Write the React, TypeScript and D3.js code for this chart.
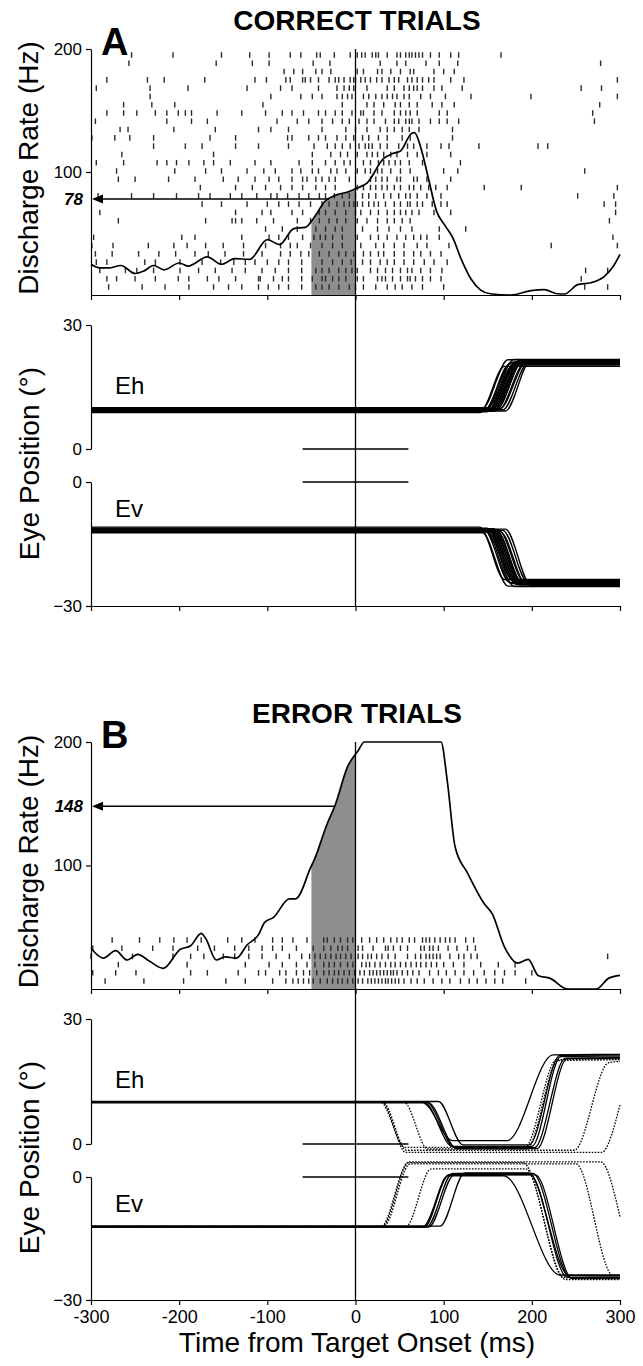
import * as React from 'react';
import * as d3 from 'd3';

const TIME_DOMAIN = [-300, 300];
const TIME_TICKS = [-300, -200, -100, 0, 100, 200, 300];
const RATE_TICKS = [200, 100];
const EH_TICKS = [30, 0];
const EV_TICKS = [0, -30];
const SHADE_WINDOW = [-50, 0];
const REF_LINE = [-60, 60];

// spike density functions (ms, Hz)
const rateTimesA = [-300, -290, -280, -266, -250, -240, -229, -217, -200, -190, -168, -152, -137, -120, -100, -86, -70, -57, -46, -35, -23, -8, 2, 13, 32, 42, 51, 63, 67, 74, 82, 92, 102, 110, 120, 131, 142, 153, 176, 199, 214, 229, 237, 252, 267, 282, 293, 300];
const rateValuesA = [25, 22, 22, 24, 17.5, 19.5, 24, 20.5, 26, 23.5, 31, 25, 29.5, 29, 45, 41, 54, 55, 64, 76, 81, 84, 87, 91, 111, 115, 117, 131, 132, 120, 97, 68, 56, 47, 29, 13, 4, 1, 0, 3.5, 4.3, 1, 0.8, 8.4, 10, 15, 24, 33];

const rateTimesB = [-300, -286, -272, -259, -247, -234, -218, -199, -187, -175, -170, -158, -148, -135, -123, -110, -103, -93, -75, -68, -51, -46, -32, -23, -9, 3, 10, 97, 104, 113, 127, 146, 155, 169, 184, 196, 207, 221, 240, 273, 287, 300];
const rateValuesB = [33, 25, 31, 23.5, 28, 22.7, 16.7, 32, 35, 45, 41, 23.5, 26, 25, 35.6, 44, 54, 58, 73, 73, 98, 106, 134, 149, 180, 193, 200, 200, 169, 115, 94, 69, 61, 34, 21, 24, 11, 8.6, 0, 0, 8.6, 11];

// rasters: spike times per trial (ms)
const rasterA: number[][] = [
  [-254, -207, -152, -120, -98, -74, -62, -44, -40, -24, -6, 2, 7, 11, 19, 23, 26, 36, 47, 51, 57, 61, 64, 68, 72, 76, 85, 95, 108, 117, 165],
  [-257, -158, -117, -98, -48, -29, 28, 47, 57, 80, 95, 116, 278],
  [-81, -70, -60, -45, -38, -28, 2, 9, 25, 30, 40, 51, 62, 66, 89, 100, 112],
  [-282, -236, -217, -171, -114, -101, -79, -74, -60, -57, -51, -42, -30, -23, -19, -13, -6, -2, 0, 6, 11, 17, 24, 30, 38, 44, 49, 59, 64, 70, 76, 83, 89, 108, 123, 297],
  [-294, -233, -190, -123, -85, -72, -42, -21, -13, -7, -2, 13, 36, 44, 55, 61, 66, 70, 76, 89, 98, 121, 256, 279],
  [-233, -96, -62, -49, -38, -21, -15, -9, -4, 9, 15, 23, 30, 36, 42, 47, 55, 61, 74, 85, 102, 131, 199, 297],
  [-263, -231, -205, -105, -15, 13, 21, 32, 45, 51, 61, 70, 87, 98, 112, 277],
  [-282, -263, -248, -227, -214, -201, -193, -186, -157, -129, -102, -83, -72, -59, -42, -34, -23, -15, -4, 6, 9, 21, 30, 44, 51, 57, 62, 70, 95, 104, 269],
  [-295, -214, -186, -168, -89, -66, -53, -38, -26, -15, -7, 4, 13, 21, 34, 44, 49, 57, 61, 64, 72, 85, 95, 104, 117, 271],
  [-267, -258, -206, -159, -110, -96, -76, -38, -11, 0, 13, 28, 36, 44, 53, 61, 72, 110],
  [-299, -273, -256, -229, -165, -136, -77, -72, -53, -42, -34, -21, -11, -2, 8, 15, 26, 36, 53, 62, 110],
  [-229, -193, -174, -136, -110, -76, -47, -32, -23, -15, -6, 4, 11, 15, 19, 28, 36, 49, 59, 66, 81, 97, 106, 140, 207, 218],
  [-265, -161, -49, -28, -17, -9, 2, 13, 19, 25, 32, 40, 47, 59, 70, 81, 108],
  [-294, -263, -225, -214, -203, -189, -172, -161, -142, -114, -96, -64, -49, -34, -23, -13, -6, 9, 17, 26, 32, 38, 45, 51, 61, 76, 119],
  [-271, -205, -170, -152, -123, -104, -91, -72, -62, -49, -42, -28, -21, -11, 2, 11, 17, 25, 30, 40, 51, 62, 100, 116, 260],
  [-269, -250, -212, -182, -150, -133, -114, -98, -87, -72, -60, -55, -45, -38, -30, -23, -7, 17, 23, 30, 36, 47, 51, 66, 70, 81, 108],
  [-176, -136, -117, -102, -85, -72, -60, -45, -34, -23, 2, 9, 17, 23, 30, 36, 44, 51, 61, 66, 74, 83, 91, 104, 146, 188, 297],
  [-292, -254, -229, -203, -178, -165, -142, -129, -112, -96, -89, -77, -64, -53, -41, -34, -24, -15, -7, 0, 8, 15, 23, 32, 40, 49, 57, 62, 70, 81, 97, 252, 293],
  [-174, -152, -123, -100, -87, -76, -64, -51, -38, -30, -21, -13, -7, -2, 2, 8, 15, 21, 26, 34, 44, 51, 59, 62, 70, 76, 87, 97, 104, 282, 295],
  [-290, -136, -106, -96, -72, -60, -41, -34, -23, -11, 0, 6, 17, 26, 36, 44, 51, 57, 64, 72, 89, 108, 295],
  [-269, -170, -140, -136, -129, -112, -93, -66, -51, -41, -30, -21, -11, 2, 13, 25, 36, 44, 53, 62, 288],
  [-102, -83, -66, -45, -34, -23, -15, 8, 25, 38, 51, 64, 95, 125],
  [-297, -197, -182, -129, -98, -87, -76, -60, -47, -40, -34, -26, -15, 2, 17, 26, 36, 47, 57, 66, 74, 81, 95, 292],
  [-299, -275, -235, -206, -191, -170, -150, -127, -102, -85, -74, -66, -51, -38, -26, -15, 6, 23, 32, 44, 55, 70, 81, 106, 222, 297],
  [-295, -276, -246, -223, -204, -182, -167, -148, -127, -106, -85, -74, -62, -53, -41, -30, -19, -11, -2, 9, 17, 26, 32, 44, 55, 66, 74, 85, 97],
  [-294, -282, -239, -227, -199, -174, -153, -138, -125, -114, -100, -87, -76, -61, -38, -26, -15, -5, 8, 17, 28, 36, 44, 55, 66, 78, 89, 104],
  [-290, -261, -248, -229, -199, -178, -159, -140, -125, -106, -91, -76, -61, -45, -38, -30, -19, -11, -4, 2, 17, 25, 34, 42, 51, 59, 64, 74, 85, 98, 261, 286],
  [-282, -271, -250, -227, -201, -189, -168, -155, -136, -110, -108, -93, -83, -76, -61, -49, -38, -34, -26, -19, -11, 2, 9, 25, 30, 34, 42, 51, 59, 62, 68, 76, 85, 97, 256],
  [-280, -242, -216, -189, -161, -144, -129, -110, -99, -87, -76, -61, -45, -38, -30, -19, -7, 0, 9, 23, 36, 45, 53, 64, 76, 100, 260, 286],
];

const rasterB: number[][] = [
  [-276, -245, -222, -206, -191, -175, -145, -129, -114, -94, -83, -71, -55, -36, -32, -24, -17, -9, -3, 7, 16, 24, 32, 40, 47, 53, 61, 67, 76, 80, 84, 90, 96, 102, 107, 113, 125, 134],
  [-298, -265, -230, -207, -179, -160, -137, -121, -106, -94, -83, -67, -48, -36, -28, -20, -15, -9, 3, 8, 20, 34, 37, 43, 51, 59, 74, 78, 84, 88, 94, 105, 115, 127, 136],
  [-300, -253, -207, -187, -172, -150, -137, -121, -106, -90, -75, -61, -52, -46, -40, -34, -28, -22, -17, -11, -5, 3, 8, 14, 18, 24, 30, 37, 45, 59, 68, 74, 80, 84, 88, 92, 96, 107, 117, 123, 131, 138, 286],
  [-269, -191, -125, -98, -83, -67, -55, -46, -36, -30, -24, -17, -9, -3, 7, 12, 16, 22, 28, 34, 40, 45, 51, 57, 63, 69, 74, 80, 86, 92, 100, 111, 123, 142, 162, 181],
  [-298, -272, -249, -187, -168, -133, -110, -102, -86, -79, -67, -59, -52, -44, -36, -30, -24, -19, -13, -7, -1, 5, 10, 16, 20, 24, 28, 32, 36, 40, 43, 47, 53, 59, 65, 72, 84, 94, 103, 113, 123, 134, 146, 158, 169, 181, 200],
  [-284, -240, -195, -147, -125, -94, -79, -71, -65, -59, -53, -48, -40, -32, -26, -20, -15, -9, -3, 3, 8, 14, 18, 22, 26, 30, 34, 37, 41, 45, 49, 55, 63, 70, 78, 88, 98, 107, 119, 129, 138, 148, 158, 167, 193],
];

// correct trials: saccade onset/offset (ms) and eye positions (deg)
const correctOnset = [141, 144, 146, 148, 149, 150, 151, 152, 153, 154, 155, 156, 157, 158, 159, 160, 162, 164, 167, 170];
const correctOffset = [169, 173, 175, 177, 179, 180, 181, 182, 183, 184, 185, 186, 187, 188, 189, 190, 192, 194, 196, 199];
const correctEhStart = [8.8, 9.9, 9.3, 9.6, 9.0, 10.0, 9.5, 9.2, 9.8, 9.4, 9.7, 9.1, 9.9, 9.5, 9.3, 9.6, 9.4, 9.8, 9.5, 9.2];
const correctEhEnd = [20.0, 21.6, 20.6, 21.0, 20.3, 21.7, 20.8, 21.2, 20.9, 21.0, 20.5, 21.4, 20.8, 21.1, 20.9, 21.3, 20.7, 21.0, 20.9, 21.5];
const correctEvStart = [-10.9, -12.3, -11.6, -11.9, -11.2, -12.2, -11.7, -11.4, -12.0, -11.6, -11.9, -11.3, -12.1, -11.7, -11.5, -11.8, -11.6, -12.0, -11.7, -11.4];
const correctEvEnd = [-23.6, -25.2, -24.3, -24.6, -23.9, -25.3, -24.4, -24.1, -24.8, -24.3, -24.6, -24.0, -24.9, -24.4, -24.2, -24.7, -24.3, -24.8, -24.5, -25.0];

// error trials: eye position key points [ms, deg]
const errorDotted = [false, false, false, false, false, true, true, true, true];
const errorEh: number[][][] = [
  [[-300, 10.2], [94, 10.2], [122, -0.2], [197, -0.2], [232, 21.3], [300, 21.4]],
  [[-300, 10.0], [78, 10.0], [110, -0.6], [200, -0.6], [233, 21.0], [300, 21.1]],
  [[-300, 10.1], [80, 10.1], [113, -0.9], [203, -0.9], [238, 20.6], [300, 20.7]],
  [[-300, 9.9], [76, 9.9], [110, 0.8], [172, 0.8], [224, 21.4], [300, 21.5]],
  [[-300, 10.0], [82, 10.0], [115, -1.1], [206, -1.1], [240, 20.5], [300, 20.6]],
  [[-300, 10.1], [28, 10.1], [56, -0.8], [192, -0.8], [228, 20.2], [300, 20.4]],
  [[-300, 10.0], [31, 10.0], [58, -1.5], [248, -1.5], [287, 19.5], [300, 19.8]],
  [[-300, 10.1], [30, 10.1], [57, -2.0], [279, -2.0], [300, 9.4]],
  [[-300, 10.0], [55, 10.0], [82, -1.2], [194, -1.2], [230, 20.0], [300, 20.2]],
];
const errorEv: number[][][] = [
  [[-300, -12.0], [96, -12.0], [124, 1.0], [196, 1.0], [242, -24.0], [300, -24.1]],
  [[-300, -12.2], [78, -12.2], [106, 0.6], [198, 0.6], [240, -24.4], [300, -24.4]],
  [[-300, -12.1], [81, -12.1], [110, 0.9], [201, 0.9], [244, -24.6], [300, -24.6]],
  [[-300, -12.0], [77, -12.0], [105, 0.3], [168, 0.3], [232, -23.9], [300, -23.9]],
  [[-300, -12.2], [83, -12.2], [112, 0.5], [204, 0.5], [246, -24.8], [300, -24.8]],
  [[-300, -12.1], [29, -12.1], [60, 3.5], [190, 3.5], [238, -25.0], [300, -25.0]],
  [[-300, -12.0], [32, -12.0], [62, 3.2], [250, 3.2], [292, -24.0], [300, -24.0]],
  [[-300, -12.2], [30, -12.2], [61, 3.7], [278, 3.7], [300, -9.7]],
  [[-300, -12.1], [57, -12.1], [86, 2.0], [193, 2.0], [236, -24.5], [300, -24.6]],
];

const FONT = '"Liberation Sans", Arial, Helvetica, sans-serif';
const LEFT = 91;
const RIGHT = 620;

const correctEhTraces = correctOnset.map((on, i) => [
  [TIME_DOMAIN[0], correctEhStart[i]], [on, correctEhStart[i]], [correctOffset[i], correctEhEnd[i]], [TIME_DOMAIN[1], correctEhEnd[i]],
]);
const correctEvTraces = correctOnset.map((on, i) => [
  [TIME_DOMAIN[0], correctEvStart[i]], [on, correctEvStart[i]], [correctOffset[i], correctEvEnd[i]], [TIME_DOMAIN[1], correctEvEnd[i]],
]);

interface PanelOpts {
  id: string;
  title: string;
  titleY: number;
  letterY: number;
  rateTop: number;
  rateBottom: number;
  ehTop: number;
  ehZero: number;
  evZero: number;
  evBottom: number;
  rateTimes: number[];
  rateValues: number[];
  raster: number[][];
  rasterTop: number;
  rasterBottom: number;
  arrowValue: number;
  arrowTime: number;
  ehTraces: number[][][];
  evTraces: number[][][];
  dotted: boolean[];
  traceWidth: number;
  ehLabelY: number;
  evLabelY: number;
  timeLabels: boolean;
}

const styleAxis = (g: any) => {
  g.attr('font-family', FONT).attr('font-size', 17);
  g.selectAll('path').attr('stroke', '#000').attr('stroke-width', 1.2);
  g.selectAll('line').attr('stroke', '#000').attr('stroke-width', 1.2);
  g.selectAll('text').attr('fill', '#000');
};

function drawPanel(svg: any, o: PanelOpts) {
  const x = d3.scaleLinear().domain(TIME_DOMAIN).range([LEFT, RIGHT]);
  const yRate = d3.scaleLinear().domain([0, 200]).range([o.rateBottom, o.rateTop]);
  const yEh = d3.scaleLinear().domain([0, 30]).range([o.ehZero, o.ehTop]);
  const yEv = d3.scaleLinear().domain([-30, 0]).range([o.evBottom, o.evZero]);
  const g = svg.append('g').attr('font-family', FONT);

  // titles
  g.append('text').attr('x', 357).attr('y', o.titleY).attr('text-anchor', 'middle')
    .attr('font-weight', 'bold').attr('font-size', 28).text(o.title);
  g.append('text').attr('x', 101).attr('y', o.letterY)
    .attr('font-weight', 'bold').attr('font-size', 38).text(o.id);

  const rateData = o.rateTimes.map((t, i) => [t, o.rateValues[i]]);

  // shaded window under the density curve
  const clipId = 'shade-' + o.id;
  g.append('clipPath').attr('id', clipId).append('rect')
    .attr('x', x(SHADE_WINDOW[0])).attr('width', x(SHADE_WINDOW[1]) - x(SHADE_WINDOW[0]))
    .attr('y', o.rateTop - 10).attr('height', o.rateBottom - o.rateTop + 10);
  const area = d3.area<number[]>().x(d => x(d[0])).y0(yRate(0)).y1(d => yRate(d[1])).curve(d3.curveMonotoneX);
  g.append('path').datum(rateData).attr('d', area).attr('fill', '#8e8e8e').attr('clip-path', `url(#${clipId})`);

  // raster
  const row = d3.scalePoint<number>().domain(d3.range(o.raster.length)).range([o.rasterTop, o.rasterBottom]);
  const rows = g.append('g').selectAll('g').data(o.raster).join('g')
    .attr('transform', (_d, i) => `translate(0,${row(i)})`);
  rows.selectAll('line').data(d => d).join('line')
    .attr('x1', d => x(d)).attr('x2', d => x(d)).attr('y1', -2.8).attr('y2', 2.8)
    .attr('stroke', '#2a2a2a').attr('stroke-width', 1.4);

  // density curve
  const line = d3.line<number[]>().x(d => x(d[0])).y(d => yRate(d[1])).curve(d3.curveMonotoneX);
  g.append('path').datum(rateData).attr('d', line).attr('fill', 'none')
    .attr('stroke', '#000').attr('stroke-width', 1.7);

  // arrow to the rate at the window
  const ya = yRate(o.arrowValue);
  g.append('line').attr('x1', LEFT + 8).attr('x2', x(o.arrowTime)).attr('y1', ya).attr('y2', ya)
    .attr('stroke', '#000').attr('stroke-width', 1.5);
  g.append('path').attr('d', `M${LEFT + 1},${ya}L${LEFT + 12},${ya - 4.5}L${LEFT + 12},${ya + 4.5}Z`).attr('fill', '#000');
  g.append('text').attr('x', LEFT - 8).attr('y', ya).attr('dy', '0.35em').attr('text-anchor', 'end')
    .attr('font-size', 17).attr('font-weight', 'bold').attr('font-style', 'italic').text(o.arrowValue);

  // rate axes
  const rateAxis = g.append('g').attr('transform', `translate(${LEFT},0)`)
    .call(d3.axisLeft(yRate).tickValues(RATE_TICKS).tickSize(5).tickPadding(4).tickSizeOuter(0));
  styleAxis(rateAxis);
  const rateX = g.append('g').attr('transform', `translate(0,${o.rateBottom})`)
    .call(d3.axisBottom(x).tickValues(TIME_TICKS).tickFormat(() => '').tickSize(5).tickSizeOuter(0));
  styleAxis(rateX);

  // reference lines and time zero
  g.append('line').attr('x1', x(0)).attr('x2', x(0)).attr('y1', yRate(200)).attr('y2', o.evBottom)
    .attr('stroke', '#000').attr('stroke-width', 1.3);
  [yEh(0), yEv(0)].forEach(yy => {
    g.append('line').attr('x1', x(REF_LINE[0])).attr('x2', x(REF_LINE[1])).attr('y1', yy).attr('y2', yy)
      .attr('stroke', '#000').attr('stroke-width', 1.3);
  });

  // eye traces
  const ehLine = d3.line<number[]>().x(d => x(d[0])).y(d => yEh(d[1])).curve(d3.curveMonotoneX);
  const evLine = d3.line<number[]>().x(d => x(d[0])).y(d => yEv(d[1])).curve(d3.curveMonotoneX);
  const drawTraces = (traces: number[][][], gen: any) => {
    g.append('g').selectAll('path').data(traces).join('path')
      .attr('d', gen).attr('fill', 'none').attr('stroke', '#000')
      .attr('stroke-width', (_d, i) => (o.dotted[i] ? 1.3 : o.traceWidth))
      .attr('stroke-dasharray', (_d, i) => (o.dotted[i] ? '1.6,1.4' : null));
  };
  drawTraces(o.ehTraces, ehLine);
  drawTraces(o.evTraces, evLine);

  g.append('text').attr('x', 115).attr('y', o.ehLabelY).attr('font-size', 24).text('Eh');
  g.append('text').attr('x', 115).attr('y', o.evLabelY).attr('font-size', 24).text('Ev');

  // eye axes
  const ehAxis = g.append('g').attr('transform', `translate(${LEFT},0)`)
    .call(d3.axisLeft(yEh).tickValues(EH_TICKS).tickSize(5).tickPadding(4).tickSizeOuter(0));
  styleAxis(ehAxis);
  const evAxis = g.append('g').attr('transform', `translate(${LEFT},0)`)
    .call(d3.axisLeft(yEv).tickValues(EV_TICKS).tickSize(5).tickPadding(4).tickSizeOuter(0));
  styleAxis(evAxis);
  const timeAxis = g.append('g').attr('transform', `translate(0,${o.evBottom})`)
    .call(d3.axisBottom(x).tickValues(TIME_TICKS).tickSize(5).tickPadding(5).tickSizeOuter(0)
      .tickFormat(o.timeLabels ? (d: any) => String(d) : () => ''));
  styleAxis(timeAxis);
  timeAxis.attr('font-size', 18);

  // axis titles
  const rateMid = (o.rateTop + o.rateBottom) / 2 - 4;
  g.append('text').attr('transform', `translate(38,${rateMid}) rotate(-90)`).attr('text-anchor', 'middle')
    .attr('font-size', 28).text('Discharge Rate (Hz)');
  const eyeMid = (o.ehTop + o.evBottom) / 2 - 2;
  g.append('text').attr('transform', `translate(39,${eyeMid}) rotate(-90)`).attr('text-anchor', 'middle')
    .attr('font-size', 28).text('Eye Position (°)');
}

export default function App() {
  const ref = React.useRef<SVGSVGElement>(null);

  React.useEffect(() => {
    const svg = d3.select(ref.current);
    svg.selectAll('*').remove();

    drawPanel(svg, {
      id: 'A', title: 'CORRECT TRIALS', titleY: 30, letterY: 55,
      rateTop: 49, rateBottom: 295, ehTop: 325, ehZero: 449, evZero: 482, evBottom: 606,
      rateTimes: rateTimesA, rateValues: rateValuesA,
      raster: rasterA, rasterTop: 55, rasterBottom: 287,
      arrowValue: 78, arrowTime: -30,
      ehTraces: correctEhTraces, evTraces: correctEvTraces, dotted: correctOnset.map(() => false),
      traceWidth: 1.35,
      ehLabelY: 394, evLabelY: 517, timeLabels: false,
    });

    drawPanel(svg, {
      id: 'B', title: 'ERROR TRIALS', titleY: 723, letterY: 748,
      rateTop: 742, rateBottom: 989, ehTop: 1019, ehZero: 1144, evZero: 1177, evBottom: 1300,
      rateTimes: rateTimesB, rateValues: rateValuesB,
      raster: rasterB, rasterTop: 940, rasterBottom: 981,
      arrowValue: 148, arrowTime: -24,
      ehTraces: errorEh, evTraces: errorEv, dotted: errorDotted,
      traceWidth: 1.3,
      ehLabelY: 1088, evLabelY: 1212, timeLabels: true,
    });

    svg.append('text').attr('x', 357).attr('y', 1352).attr('text-anchor', 'middle')
      .attr('font-family', FONT).attr('font-size', 28).text('Time from Target Onset (ms)');
  }, []);

  return (
    <svg ref={ref} width={643} height={1366}
      style={{ position: 'absolute', left: 0, top: 0, background: '#fff' }} />
  );
}
